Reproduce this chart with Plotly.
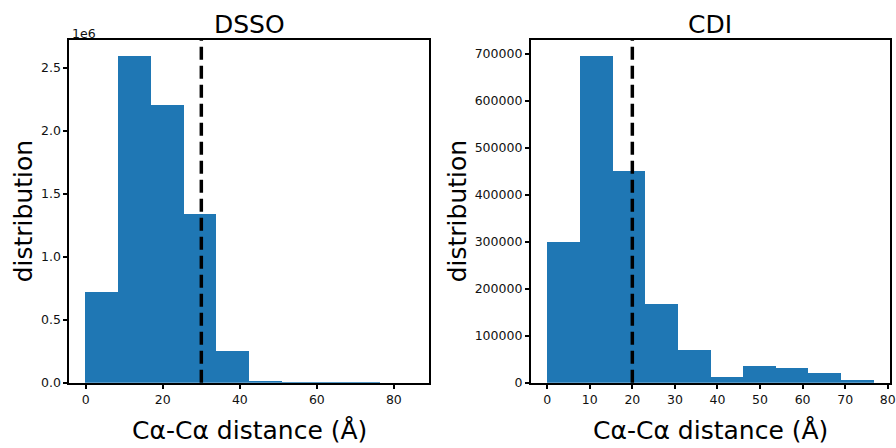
import plotly.graph_objects as go

# reference layout is measured in a 896x448 frame; the capture squeezes the
# page slightly, so the figure is drawn a little larger and positions are
# expressed as fractions of the 896x448 reference frame
W, H = 904, 455
REF_W, REF_H = 896, 448

# ---- data ----
dsso_edges = [0, 8.5, 17, 25.5, 34, 42.5, 51, 59.5, 68, 76.5, 85]
dsso_counts = [720000, 2590000, 2200000, 1340000, 252000, 14000, 1500, 300, 80, 20]
dsso_cutoff = 30

cdi_edges = [0, 7.67, 15.34, 23.01, 30.68, 38.35, 46.02, 53.69, 61.36, 69.03, 76.7]
cdi_counts = [299000, 694000, 450000, 167000, 69500, 12000, 35500, 31000, 21000, 6000]
cdi_cutoff = 20

dsso_yticks = [0, 500000, 1000000, 1500000, 2000000, 2500000]
dsso_yticktext = ["0.0", "0.5", "1.0", "1.5", "2.0", "2.5"]
dsso_xticks = [0, 20, 40, 60, 80]
cdi_xticks = [0, 10, 20, 30, 40, 50, 60, 70, 80]
cdi_yticks = [0, 100000, 200000, 300000, 400000, 500000, 600000, 700000]

titles = ["DSSO", "CDI"]
xlabel = "Cα-Cα distance (Å)"
ylabel = "distribution"

FONT = "DejaVu Sans"
BLUE = "#1f77b4"


def px_x(p):
    return p / REF_W


def px_y(p):
    return 1 - p / REF_H


def centers(edges):
    return [(a + b) / 2 for a, b in zip(edges[:-1], edges[1:])]


def widths(edges):
    return [b - a for a, b in zip(edges[:-1], edges[1:])]


fig = go.Figure()
fig.add_trace(go.Bar(x=centers(dsso_edges), y=dsso_counts, width=widths(dsso_edges),
                     marker=dict(color=BLUE, line=dict(width=0)), xaxis="x", yaxis="y",
                     showlegend=False, hoverinfo="skip"))
fig.add_trace(go.Bar(x=centers(cdi_edges), y=cdi_counts, width=widths(cdi_edges),
                     marker=dict(color=BLUE, line=dict(width=0)), xaxis="x2", yaxis="y2",
                     showlegend=False, hoverinfo="skip"))


def rng(edges, m=0.05):
    d = edges[-1] - edges[0]
    return [edges[0] - m * d, edges[-1] + m * d]


ydom = [px_y(382.7), px_y(40)]
ldom = [px_x(69.3), px_x(428.5)]
rdom = [px_x(529.7), px_x(888.0)]

axis_common = dict(showline=True, linecolor="black", linewidth=2, mirror=True,
                   ticks="outside", ticklen=4, tickwidth=1.6, tickcolor="black",
                   showgrid=False, zeroline=False,
                   tickfont=dict(family=FONT, size=12.5, color="#111"))

fig.update_layout(
    width=W, height=H,
    margin=dict(l=0, r=0, t=0, b=0),
    paper_bgcolor="white", plot_bgcolor="white",
    bargap=0,
    xaxis=dict(domain=ldom, range=rng(dsso_edges), tickvals=dsso_xticks, anchor="y",
               **axis_common),
    yaxis=dict(domain=ydom, range=[0, max(dsso_counts) * 1.05], tickvals=dsso_yticks,
               ticktext=dsso_yticktext, anchor="x", **axis_common),
    xaxis2=dict(domain=rdom, range=rng(cdi_edges), tickvals=cdi_xticks, anchor="y2",
                **axis_common),
    yaxis2=dict(domain=ydom, range=[0, max(cdi_counts) * 1.05], tickvals=cdi_yticks,
                tickformat="d", anchor="x2", **axis_common),
)

# cutoff lines
for xv, xr, yr in [(dsso_cutoff, "x", "y domain"), (cdi_cutoff, "x2", "y2 domain")]:
    fig.add_shape(type="line", x0=xv, x1=xv, y0=0, y1=1, xref=xr, yref=yr,
                  line=dict(color="black", width=3.5, dash="13px,6px"))

ann = []
for t, dom in zip(titles, [ldom, rdom]):
    cx = (dom[0] + dom[1]) / 2
    ann.append(dict(text=t, x=cx, y=px_y(24), xref="paper", yref="paper",
                    xanchor="center", yanchor="middle", showarrow=False,
                    font=dict(family=FONT, size=25, color="black")))
    ann.append(dict(text=xlabel, x=cx, y=px_y(430), xref="paper", yref="paper",
                    xanchor="center", yanchor="middle", showarrow=False,
                    font=dict(family=FONT, size=25, color="black")))
for xc in [23, 456]:
    ann.append(dict(text=ylabel, x=px_x(xc), y=px_y(211.3), xref="paper", yref="paper",
                    xanchor="center", yanchor="middle", showarrow=False, textangle=-90,
                    font=dict(family=FONT, size=25, color="black")))
ann.append(dict(text="1e6", x=px_x(69.5), y=px_y(33), xref="paper", yref="paper",
                xanchor="left", yanchor="middle", showarrow=False,
                font=dict(family=FONT, size=12.5, color="#111")))
fig.update_layout(annotations=ann)

fig.write_html("out.html",
               config={"displayModeBar": False},
               post_script="document.body.style.margin='0';"
                           "document.body.style.overflow='hidden';")
